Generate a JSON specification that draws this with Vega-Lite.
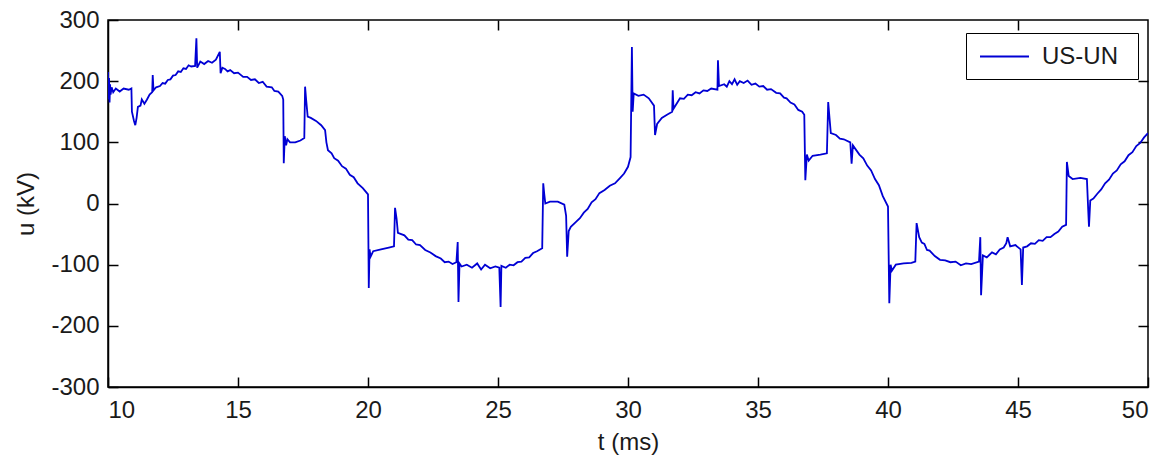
{
  "$schema": "https://vega.github.io/schema/vega-lite/v6.json",
  "width": 1040,
  "height": 367,
  "autosize": {"type": "none"},
  "padding": {"left": 108, "top": 20, "right": 14, "bottom": 72},
  "background": "white",
  "config": {
    "view": {"stroke": "black", "strokeWidth": 1.5},
    "font": "Liberation Sans",
    "axis": {"grid": false, "labelFont": "Liberation Sans", "titleFont": "Liberation Sans", "labelColor": "#1a1a1a", "titleColor": "#1a1a1a", "titleFontWeight": "normal", "domainColor": "black", "tickColor": "black", "domainWidth": 1.5, "tickWidth": 1.5}
  },
  "data": {"values": [
    {"t":10.00,"u":215,"s":"US-UN"},{"t":10.02,"u":170,"s":"US-UN"},{"t":10.04,"u":205,"s":"US-UN"},{"t":10.06,"u":165,"s":"US-UN"},{"t":10.08,"u":195,"s":"US-UN"},{"t":10.10,"u":178,"s":"US-UN"},{"t":10.14,"u":190,"s":"US-UN"},{"t":10.2,"u":182,"s":"US-UN"},{"t":10.3,"u":188,"s":"US-UN"},{"t":10.45,"u":183,"s":"US-UN"},{"t":10.6,"u":188,"s":"US-UN"},{"t":10.8,"u":186,"s":"US-UN"},{"t":10.9,"u":188,"s":"US-UN"},{"t":10.92,"u":150,"s":"US-UN"},{"t":11.0,"u":135,"s":"US-UN"},{"t":11.05,"u":128,"s":"US-UN"},{"t":11.1,"u":140,"s":"US-UN"},{"t":11.15,"u":158,"s":"US-UN"},{"t":11.25,"u":160,"s":"US-UN"},{"t":11.3,"u":170,"s":"US-UN"},{"t":11.4,"u":163,"s":"US-UN"},{"t":11.5,"u":170,"s":"US-UN"},{"t":11.6,"u":178,"s":"US-UN"},{"t":11.7,"u":182,"s":"US-UN"},{"t":11.72,"u":210,"s":"US-UN"},{"t":11.75,"u":185,"s":"US-UN"},{"t":11.85,"u":190,"s":"US-UN"},{"t":12.0,"u":192,"s":"US-UN"},{"t":12.1,"u":197,"s":"US-UN"},{"t":12.2,"u":196,"s":"US-UN"},{"t":12.3,"u":202,"s":"US-UN"},{"t":12.4,"u":203,"s":"US-UN"},{"t":12.5,"u":209,"s":"US-UN"},{"t":12.6,"u":210,"s":"US-UN"},{"t":12.7,"u":216,"s":"US-UN"},{"t":12.8,"u":215,"s":"US-UN"},{"t":12.9,"u":221,"s":"US-UN"},{"t":13.0,"u":220,"s":"US-UN"},{"t":13.1,"u":226,"s":"US-UN"},{"t":13.2,"u":224,"s":"US-UN"},{"t":13.35,"u":225,"s":"US-UN"},{"t":13.4,"u":270,"s":"US-UN"},{"t":13.43,"u":222,"s":"US-UN"},{"t":13.55,"u":232,"s":"US-UN"},{"t":13.7,"u":228,"s":"US-UN"},{"t":13.85,"u":233,"s":"US-UN"},{"t":14.0,"u":230,"s":"US-UN"},{"t":14.15,"u":235,"s":"US-UN"},{"t":14.3,"u":248,"s":"US-UN"},{"t":14.33,"u":213,"s":"US-UN"},{"t":14.4,"u":222,"s":"US-UN"},{"t":14.5,"u":220,"s":"US-UN"},{"t":14.6,"u":216,"s":"US-UN"},{"t":14.7,"u":218,"s":"US-UN"},{"t":14.85,"u":213,"s":"US-UN"},{"t":15.0,"u":214,"s":"US-UN"},{"t":15.2,"u":207,"s":"US-UN"},{"t":15.35,"u":207,"s":"US-UN"},{"t":15.5,"u":202,"s":"US-UN"},{"t":15.65,"u":203,"s":"US-UN"},{"t":15.8,"u":197,"s":"US-UN"},{"t":15.95,"u":199,"s":"US-UN"},{"t":16.1,"u":191,"s":"US-UN"},{"t":16.3,"u":190,"s":"US-UN"},{"t":16.4,"u":184,"s":"US-UN"},{"t":16.55,"u":183,"s":"US-UN"},{"t":16.7,"u":176,"s":"US-UN"},{"t":16.74,"u":170,"s":"US-UN"},{"t":16.76,"u":66,"s":"US-UN"},{"t":16.8,"u":110,"s":"US-UN"},{"t":16.85,"u":95,"s":"US-UN"},{"t":16.9,"u":105,"s":"US-UN"},{"t":17.0,"u":100,"s":"US-UN"},{"t":17.2,"u":100,"s":"US-UN"},{"t":17.4,"u":103,"s":"US-UN"},{"t":17.55,"u":107,"s":"US-UN"},{"t":17.58,"u":191,"s":"US-UN"},{"t":17.62,"u":170,"s":"US-UN"},{"t":17.68,"u":142,"s":"US-UN"},{"t":17.8,"u":140,"s":"US-UN"},{"t":18.0,"u":135,"s":"US-UN"},{"t":18.2,"u":128,"s":"US-UN"},{"t":18.35,"u":120,"s":"US-UN"},{"t":18.4,"u":100,"s":"US-UN"},{"t":18.46,"u":87,"s":"US-UN"},{"t":18.6,"u":82,"s":"US-UN"},{"t":18.7,"u":74,"s":"US-UN"},{"t":18.85,"u":70,"s":"US-UN"},{"t":19.0,"u":61,"s":"US-UN"},{"t":19.15,"u":57,"s":"US-UN"},{"t":19.3,"u":47,"s":"US-UN"},{"t":19.45,"u":43,"s":"US-UN"},{"t":19.6,"u":33,"s":"US-UN"},{"t":19.8,"u":25,"s":"US-UN"},{"t":19.96,"u":17,"s":"US-UN"},{"t":20.0,"u":15,"s":"US-UN"},{"t":20.03,"u":-138,"s":"US-UN"},{"t":20.06,"u":-75,"s":"US-UN"},{"t":20.1,"u":-87,"s":"US-UN"},{"t":20.2,"u":-78,"s":"US-UN"},{"t":20.5,"u":-75,"s":"US-UN"},{"t":20.8,"u":-72,"s":"US-UN"},{"t":21.0,"u":-70,"s":"US-UN"},{"t":21.04,"u":-7,"s":"US-UN"},{"t":21.1,"u":-25,"s":"US-UN"},{"t":21.15,"u":-48,"s":"US-UN"},{"t":21.4,"u":-52,"s":"US-UN"},{"t":21.55,"u":-59,"s":"US-UN"},{"t":21.7,"u":-60,"s":"US-UN"},{"t":21.85,"u":-67,"s":"US-UN"},{"t":22.0,"u":-68,"s":"US-UN"},{"t":22.2,"u":-76,"s":"US-UN"},{"t":22.4,"u":-80,"s":"US-UN"},{"t":22.6,"u":-86,"s":"US-UN"},{"t":22.8,"u":-90,"s":"US-UN"},{"t":22.95,"u":-96,"s":"US-UN"},{"t":23.1,"u":-95,"s":"US-UN"},{"t":23.25,"u":-99,"s":"US-UN"},{"t":23.4,"u":-96,"s":"US-UN"},{"t":23.45,"u":-63,"s":"US-UN"},{"t":23.48,"u":-161,"s":"US-UN"},{"t":23.52,"u":-98,"s":"US-UN"},{"t":23.6,"u":-103,"s":"US-UN"},{"t":23.8,"u":-100,"s":"US-UN"},{"t":24.0,"u":-105,"s":"US-UN"},{"t":24.2,"u":-98,"s":"US-UN"},{"t":24.35,"u":-108,"s":"US-UN"},{"t":24.5,"u":-100,"s":"US-UN"},{"t":24.7,"u":-106,"s":"US-UN"},{"t":24.9,"u":-103,"s":"US-UN"},{"t":25.05,"u":-105,"s":"US-UN"},{"t":25.1,"u":-169,"s":"US-UN"},{"t":25.13,"u":-102,"s":"US-UN"},{"t":25.3,"u":-105,"s":"US-UN"},{"t":25.45,"u":-100,"s":"US-UN"},{"t":25.6,"u":-101,"s":"US-UN"},{"t":25.75,"u":-96,"s":"US-UN"},{"t":25.9,"u":-95,"s":"US-UN"},{"t":26.05,"u":-89,"s":"US-UN"},{"t":26.2,"u":-88,"s":"US-UN"},{"t":26.35,"u":-81,"s":"US-UN"},{"t":26.5,"u":-78,"s":"US-UN"},{"t":26.7,"u":-73,"s":"US-UN"},{"t":26.74,"u":33,"s":"US-UN"},{"t":26.78,"u":15,"s":"US-UN"},{"t":26.82,"u":0,"s":"US-UN"},{"t":27.0,"u":3,"s":"US-UN"},{"t":27.3,"u":3,"s":"US-UN"},{"t":27.55,"u":-2,"s":"US-UN"},{"t":27.62,"u":-20,"s":"US-UN"},{"t":27.66,"u":-87,"s":"US-UN"},{"t":27.72,"u":-45,"s":"US-UN"},{"t":27.8,"u":-38,"s":"US-UN"},{"t":28.0,"u":-30,"s":"US-UN"},{"t":28.15,"u":-24,"s":"US-UN"},{"t":28.3,"u":-15,"s":"US-UN"},{"t":28.45,"u":-9,"s":"US-UN"},{"t":28.6,"u":2,"s":"US-UN"},{"t":28.75,"u":7,"s":"US-UN"},{"t":28.9,"u":17,"s":"US-UN"},{"t":29.1,"u":22,"s":"US-UN"},{"t":29.3,"u":29,"s":"US-UN"},{"t":29.5,"u":33,"s":"US-UN"},{"t":29.7,"u":42,"s":"US-UN"},{"t":29.85,"u":49,"s":"US-UN"},{"t":30.0,"u":60,"s":"US-UN"},{"t":30.1,"u":76,"s":"US-UN"},{"t":30.15,"u":256,"s":"US-UN"},{"t":30.18,"u":150,"s":"US-UN"},{"t":30.22,"u":180,"s":"US-UN"},{"t":30.4,"u":176,"s":"US-UN"},{"t":30.6,"u":178,"s":"US-UN"},{"t":30.8,"u":172,"s":"US-UN"},{"t":31.0,"u":160,"s":"US-UN"},{"t":31.04,"u":112,"s":"US-UN"},{"t":31.12,"u":130,"s":"US-UN"},{"t":31.3,"u":140,"s":"US-UN"},{"t":31.5,"u":145,"s":"US-UN"},{"t":31.7,"u":150,"s":"US-UN"},{"t":31.72,"u":185,"s":"US-UN"},{"t":31.75,"u":155,"s":"US-UN"},{"t":32.0,"u":172,"s":"US-UN"},{"t":32.15,"u":171,"s":"US-UN"},{"t":32.3,"u":178,"s":"US-UN"},{"t":32.45,"u":177,"s":"US-UN"},{"t":32.6,"u":182,"s":"US-UN"},{"t":32.75,"u":180,"s":"US-UN"},{"t":32.9,"u":185,"s":"US-UN"},{"t":33.05,"u":184,"s":"US-UN"},{"t":33.2,"u":188,"s":"US-UN"},{"t":33.44,"u":186,"s":"US-UN"},{"t":33.46,"u":234,"s":"US-UN"},{"t":33.5,"u":192,"s":"US-UN"},{"t":33.7,"u":195,"s":"US-UN"},{"t":33.8,"u":191,"s":"US-UN"},{"t":33.9,"u":200,"s":"US-UN"},{"t":34.0,"u":195,"s":"US-UN"},{"t":34.1,"u":203,"s":"US-UN"},{"t":34.2,"u":194,"s":"US-UN"},{"t":34.3,"u":200,"s":"US-UN"},{"t":34.45,"u":197,"s":"US-UN"},{"t":34.6,"u":201,"s":"US-UN"},{"t":34.75,"u":194,"s":"US-UN"},{"t":34.9,"u":196,"s":"US-UN"},{"t":35.05,"u":191,"s":"US-UN"},{"t":35.2,"u":192,"s":"US-UN"},{"t":35.35,"u":186,"s":"US-UN"},{"t":35.5,"u":187,"s":"US-UN"},{"t":35.7,"u":181,"s":"US-UN"},{"t":35.85,"u":180,"s":"US-UN"},{"t":36.0,"u":173,"s":"US-UN"},{"t":36.1,"u":172,"s":"US-UN"},{"t":36.25,"u":165,"s":"US-UN"},{"t":36.4,"u":162,"s":"US-UN"},{"t":36.55,"u":153,"s":"US-UN"},{"t":36.7,"u":150,"s":"US-UN"},{"t":36.78,"u":145,"s":"US-UN"},{"t":36.82,"u":38,"s":"US-UN"},{"t":36.88,"u":80,"s":"US-UN"},{"t":36.95,"u":70,"s":"US-UN"},{"t":37.1,"u":78,"s":"US-UN"},{"t":37.4,"u":80,"s":"US-UN"},{"t":37.65,"u":82,"s":"US-UN"},{"t":37.7,"u":166,"s":"US-UN"},{"t":37.75,"u":140,"s":"US-UN"},{"t":37.8,"u":115,"s":"US-UN"},{"t":38.0,"u":112,"s":"US-UN"},{"t":38.15,"u":106,"s":"US-UN"},{"t":38.3,"u":105,"s":"US-UN"},{"t":38.55,"u":100,"s":"US-UN"},{"t":38.6,"u":65,"s":"US-UN"},{"t":38.65,"u":95,"s":"US-UN"},{"t":38.9,"u":80,"s":"US-UN"},{"t":39.05,"u":74,"s":"US-UN"},{"t":39.2,"u":62,"s":"US-UN"},{"t":39.35,"u":54,"s":"US-UN"},{"t":39.5,"u":40,"s":"US-UN"},{"t":39.65,"u":30,"s":"US-UN"},{"t":39.8,"u":12,"s":"US-UN"},{"t":40.0,"u":-5,"s":"US-UN"},{"t":40.05,"u":-163,"s":"US-UN"},{"t":40.1,"u":-100,"s":"US-UN"},{"t":40.15,"u":-110,"s":"US-UN"},{"t":40.3,"u":-100,"s":"US-UN"},{"t":40.6,"u":-98,"s":"US-UN"},{"t":40.9,"u":-97,"s":"US-UN"},{"t":41.05,"u":-95,"s":"US-UN"},{"t":41.1,"u":-32,"s":"US-UN"},{"t":41.2,"u":-55,"s":"US-UN"},{"t":41.3,"u":-64,"s":"US-UN"},{"t":41.4,"u":-66,"s":"US-UN"},{"t":41.5,"u":-76,"s":"US-UN"},{"t":41.6,"u":-77,"s":"US-UN"},{"t":41.8,"u":-86,"s":"US-UN"},{"t":42.0,"u":-92,"s":"US-UN"},{"t":42.2,"u":-93,"s":"US-UN"},{"t":42.4,"u":-96,"s":"US-UN"},{"t":42.6,"u":-95,"s":"US-UN"},{"t":42.8,"u":-101,"s":"US-UN"},{"t":43.0,"u":-98,"s":"US-UN"},{"t":43.2,"u":-99,"s":"US-UN"},{"t":43.5,"u":-95,"s":"US-UN"},{"t":43.55,"u":-55,"s":"US-UN"},{"t":43.58,"u":-150,"s":"US-UN"},{"t":43.65,"u":-85,"s":"US-UN"},{"t":43.8,"u":-88,"s":"US-UN"},{"t":44.0,"u":-80,"s":"US-UN"},{"t":44.15,"u":-83,"s":"US-UN"},{"t":44.3,"u":-75,"s":"US-UN"},{"t":44.45,"u":-72,"s":"US-UN"},{"t":44.55,"u":-65,"s":"US-UN"},{"t":44.6,"u":-55,"s":"US-UN"},{"t":44.7,"u":-70,"s":"US-UN"},{"t":44.9,"u":-68,"s":"US-UN"},{"t":45.1,"u":-75,"s":"US-UN"},{"t":45.15,"u":-133,"s":"US-UN"},{"t":45.2,"u":-72,"s":"US-UN"},{"t":45.35,"u":-70,"s":"US-UN"},{"t":45.5,"u":-65,"s":"US-UN"},{"t":45.65,"u":-66,"s":"US-UN"},{"t":45.8,"u":-60,"s":"US-UN"},{"t":45.95,"u":-61,"s":"US-UN"},{"t":46.1,"u":-55,"s":"US-UN"},{"t":46.25,"u":-55,"s":"US-UN"},{"t":46.4,"u":-50,"s":"US-UN"},{"t":46.55,"u":-46,"s":"US-UN"},{"t":46.7,"u":-38,"s":"US-UN"},{"t":46.85,"u":-35,"s":"US-UN"},{"t":46.88,"u":68,"s":"US-UN"},{"t":46.95,"u":45,"s":"US-UN"},{"t":47.1,"u":40,"s":"US-UN"},{"t":47.4,"u":42,"s":"US-UN"},{"t":47.65,"u":40,"s":"US-UN"},{"t":47.7,"u":-10,"s":"US-UN"},{"t":47.73,"u":-38,"s":"US-UN"},{"t":47.78,"u":5,"s":"US-UN"},{"t":47.9,"u":8,"s":"US-UN"},{"t":48.05,"u":16,"s":"US-UN"},{"t":48.2,"u":23,"s":"US-UN"},{"t":48.35,"u":33,"s":"US-UN"},{"t":48.5,"u":39,"s":"US-UN"},{"t":48.65,"u":49,"s":"US-UN"},{"t":48.8,"u":54,"s":"US-UN"},{"t":48.95,"u":64,"s":"US-UN"},{"t":49.1,"u":69,"s":"US-UN"},{"t":49.25,"u":79,"s":"US-UN"},{"t":49.4,"u":84,"s":"US-UN"},{"t":49.55,"u":94,"s":"US-UN"},{"t":49.7,"u":99,"s":"US-UN"},{"t":49.85,"u":108,"s":"US-UN"},{"t":50.0,"u":115,"s":"US-UN"}
  ]},
  "layer": [
    {
      "mark": {"type": "line", "strokeWidth": 1.8, "clip": true},
      "encoding": {
        "x": {"field": "t", "type": "quantitative", "scale": {"domain": [10, 50], "nice": false, "zero": false},
              "axis": {"title": "t (ms)", "values": [10,15,20,25,30,35,40,45,50], "labelExpr": "toString(datum.value)", "labelFontSize": 24, "titleFontSize": 24, "tickSize": -10, "labelPadding": 21, "titlePadding": 8}},
        "y": {"field": "u", "type": "quantitative", "scale": {"domain": [-300, 300], "nice": false, "zero": false},
              "axis": {"title": "u (kV)", "values": [-300,-200,-100,0,100,200,300], "labelExpr": "toString(datum.value)", "labelFontSize": 24, "titleFontSize": 24, "tickSize": -10, "labelPadding": 19, "titlePadding": 12}},
        "color": {"field": "s", "type": "nominal", "scale": {"range": ["#0000d4"]},
                  "legend": {"title": " ", "titleOrient": "right", "titleFontSize": 10, "titlePadding": 10, "orient": "none", "legendX": 858, "legendY": 13, "symbolType": "M-0.76,0H3.16", "symbolSize": 625, "symbolStrokeWidth": 1.8, "labelFontSize": 24, "labelFont": "Liberation Sans", "labelColor": "#1a1a1a", "strokeColor": "black", "fillColor": "white", "padding": 10, "labelOffset": 39}}
      }
    },
    {
      "mark": {"type": "line", "opacity": 0},
      "encoding": {
        "x": {"field": "t", "type": "quantitative", "scale": {"domain": [10, 50], "nice": false, "zero": false},
              "axis": {"title": null, "labels": false, "orient": "top", "values": [15,20,25,30,35,40,45], "tickSize": -10, "domain": false}},
        "y": {"field": "u", "type": "quantitative", "scale": {"domain": [-300, 300], "nice": false, "zero": false},
              "axis": {"title": null, "labels": false, "orient": "right", "values": [-200,-100,0,100,200], "tickSize": -10, "domain": false}}
      }
    }
  ],
  "resolve": {"axis": {"x": "independent", "y": "independent"}}
}
